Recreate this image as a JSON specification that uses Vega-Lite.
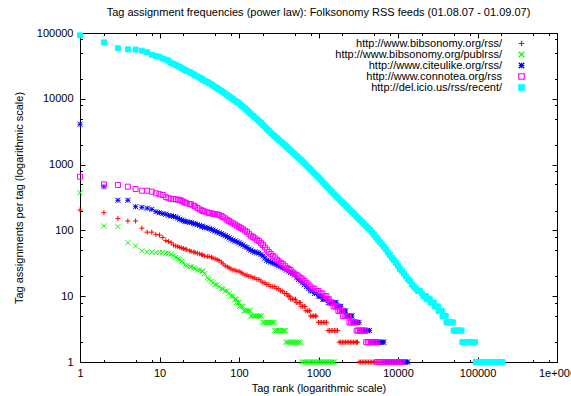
{
  "$schema": "https://vega.github.io/schema/vega-lite/v6.json",
  "width": 477,
  "height": 329,
  "autosize": "none",
  "padding": {"left": 80, "top": 33, "right": 14, "bottom": 34},
  "background": "white",
  "title": {"text": "Tag assignment frequencies (power law): Folksonomy RSS feeds (01.08.07 - 01.09.07)", "font": "Liberation Sans", "fontSize": 11, "fontWeight": "normal", "color": "black", "anchor": "middle", "offset": 9},
  "config": {
    "font": "Liberation Sans",
    "view": {"stroke": "black", "strokeWidth": 1},
    "axis": {"labelFont": "Liberation Sans", "labelFontSize": 11, "labelColor": "black", "titleFont": "Liberation Sans", "titleFontSize": 11, "titleFontWeight": "normal", "titleColor": "black", "tickColor": "black", "tickWidth": 1, "grid": false, "domain": false}
  },
  "data": {"values": [
    {"f":"rss","r":1,"n":204},{"f":"rss","r":2,"n":186},{"f":"rss","r":3,"n":151},{"f":"rss","r":4,"n":139},{"f":"rss","r":5,"n":139},{"f":"rss","r":6,"n":108},{"f":"rss","r":7,"n":94},{"f":"rss","r":8,"n":94},{"f":"rss","r":9,"n":87},{"f":"rss","r":10,"n":85},{"f":"rss","r":11,"n":78},{"f":"rss","r":12,"n":70},{"f":"rss","r":13,"n":68},{"f":"rss","r":14,"n":65},{"f":"rss","r":15,"n":60},
    {"f":"rss","r":16,"n":58},{"f":"rss","r":17,"n":57},{"f":"rss","r":18,"n":55},{"f":"rss","r":19,"n":54},{"f":"rss","r":20,"n":53},{"f":"rss","r":21,"n":52},{"f":"rss","r":22,"n":51},{"f":"rss","r":24,"n":49},{"f":"rss","r":25,"n":48},{"f":"rss","r":27,"n":47},{"f":"rss","r":28,"n":46},{"f":"rss","r":30,"n":45},{"f":"rss","r":32,"n":44},{"f":"rss","r":34,"n":43},{"f":"rss","r":35,"n":42},{"f":"rss","r":37,"n":41},{"f":"rss","r":40,"n":40},{"f":"rss","r":42,"n":40},{"f":"rss","r":45,"n":39},{"f":"rss","r":47,"n":38},{"f":"rss","r":50,"n":37},{"f":"rss","r":53,"n":36},{"f":"rss","r":56,"n":35},{"f":"rss","r":60,"n":33},{"f":"rss","r":63,"n":31},{"f":"rss","r":67,"n":29},{"f":"rss","r":71,"n":28},{"f":"rss","r":75,"n":27},{"f":"rss","r":79,"n":26},{"f":"rss","r":84,"n":25},{"f":"rss","r":89,"n":25},{"f":"rss","r":94,"n":24},{"f":"rss","r":100,"n":24},{"f":"rss","r":106,"n":23},{"f":"rss","r":112,"n":22},{"f":"rss","r":119,"n":21},{"f":"rss","r":126,"n":21},{"f":"rss","r":133,"n":20},{"f":"rss","r":141,"n":20},{"f":"rss","r":150,"n":19},{"f":"rss","r":158,"n":19},{"f":"rss","r":168,"n":18},{"f":"rss","r":178,"n":18},{"f":"rss","r":189,"n":17},{"f":"rss","r":200,"n":16},{"f":"rss","r":212,"n":16},{"f":"rss","r":224,"n":15},{"f":"rss","r":237,"n":15},{"f":"rss","r":251,"n":14},{"f":"rss","r":266,"n":14},{"f":"rss","r":282,"n":14},{"f":"rss","r":299,"n":13},{"f":"rss","r":316,"n":13},{"f":"rss","r":335,"n":12},{"f":"rss","r":355,"n":12},{"f":"rss","r":376,"n":11},{"f":"rss","r":398,"n":11},{"f":"rss","r":412,"n":10},{"f":"rss","r":427,"n":10},{"f":"rss","r":437,"n":10},
    {"f":"rss","r":447,"n":9},{"f":"rss","r":468,"n":9},{"f":"rss","r":490,"n":9},{"f":"rss","r":513,"n":9},{"f":"rss","r":525,"n":8},{"f":"rss","r":550,"n":8},{"f":"rss","r":575,"n":8},{"f":"rss","r":589,"n":8},{"f":"rss","r":603,"n":7},{"f":"rss","r":631,"n":7},{"f":"rss","r":661,"n":7},{"f":"rss","r":676,"n":7},{"f":"rss","r":692,"n":6},{"f":"rss","r":724,"n":6},{"f":"rss","r":759,"n":6},{"f":"rss","r":776,"n":6},{"f":"rss","r":794,"n":5},{"f":"rss","r":832,"n":5},{"f":"rss","r":871,"n":5},{"f":"rss","r":912,"n":5},{"f":"rss","r":933,"n":5},{"f":"rss","r":1000,"n":4},{"f":"rss","r":1047,"n":4},{"f":"rss","r":1096,"n":4},{"f":"rss","r":1148,"n":4},{"f":"rss","r":1202,"n":4},{"f":"rss","r":1259,"n":4},{"f":"rss","r":1318,"n":3},{"f":"rss","r":1380,"n":3},{"f":"rss","r":1445,"n":3},{"f":"rss","r":1514,"n":3},{"f":"rss","r":1585,"n":3},{"f":"rss","r":1660,"n":3},{"f":"rss","r":1738,"n":3},{"f":"rss","r":1820,"n":2},{"f":"rss","r":1905,"n":2},{"f":"rss","r":1995,"n":2},{"f":"rss","r":2089,"n":2},{"f":"rss","r":2188,"n":2},{"f":"rss","r":2291,"n":2},{"f":"rss","r":2399,"n":2},{"f":"rss","r":2512,"n":2},{"f":"rss","r":2630,"n":2},{"f":"rss","r":2754,"n":2},{"f":"rss","r":2884,"n":2},{"f":"rss","r":3020,"n":2},{"f":"rss","r":3090,"n":2},{"f":"rss","r":3236,"n":1},{"f":"rss","r":3388,"n":1},{"f":"rss","r":3548,"n":1},{"f":"rss","r":3715,"n":1},{"f":"rss","r":3890,"n":1},{"f":"rss","r":4074,"n":1},{"f":"rss","r":4266,"n":1},{"f":"rss","r":4467,"n":1},{"f":"rss","r":4677,"n":1},{"f":"rss","r":4898,"n":1},{"f":"rss","r":5129,"n":1},{"f":"rss","r":5623,"n":1},{"f":"rss","r":6166,"n":1},{"f":"rss","r":6761,"n":1},
    {"f":"pub","r":1,"n":374},{"f":"pub","r":2,"n":117},{"f":"pub","r":3,"n":114},{"f":"pub","r":4,"n":65},{"f":"pub","r":5,"n":58},{"f":"pub","r":6,"n":49},{"f":"pub","r":7,"n":47},{"f":"pub","r":8,"n":47},{"f":"pub","r":9,"n":46},{"f":"pub","r":10,"n":46},{"f":"pub","r":11,"n":46},{"f":"pub","r":12,"n":45},{"f":"pub","r":13,"n":45},{"f":"pub","r":14,"n":44},{"f":"pub","r":15,"n":41},
    {"f":"pub","r":16,"n":39},{"f":"pub","r":17,"n":37},{"f":"pub","r":18,"n":36},{"f":"pub","r":19,"n":34},{"f":"pub","r":20,"n":32},{"f":"pub","r":21,"n":30},{"f":"pub","r":22,"n":29},{"f":"pub","r":24,"n":28},{"f":"pub","r":25,"n":28},{"f":"pub","r":27,"n":27},{"f":"pub","r":28,"n":26},{"f":"pub","r":30,"n":25},{"f":"pub","r":32,"n":25},{"f":"pub","r":34,"n":24},{"f":"pub","r":35,"n":24},{"f":"pub","r":37,"n":22},{"f":"pub","r":40,"n":19},{"f":"pub","r":42,"n":18},{"f":"pub","r":45,"n":17},{"f":"pub","r":47,"n":16},{"f":"pub","r":50,"n":15},{"f":"pub","r":53,"n":15},{"f":"pub","r":56,"n":14},{"f":"pub","r":60,"n":13},{"f":"pub","r":63,"n":13},{"f":"pub","r":67,"n":12},{"f":"pub","r":71,"n":12},{"f":"pub","r":75,"n":11},{"f":"pub","r":79,"n":10},{"f":"pub","r":84,"n":10},{"f":"pub","r":89,"n":9},{"f":"pub","r":92,"n":9},
    {"f":"pub","r":93,"n":8},{"f":"pub","r":98,"n":8},{"f":"pub","r":100,"n":8},{"f":"pub","r":102,"n":7},{"f":"pub","r":107,"n":7},{"f":"pub","r":112,"n":7},{"f":"pub","r":115,"n":6},{"f":"pub","r":120,"n":6},{"f":"pub","r":126,"n":6},{"f":"pub","r":132,"n":6},{"f":"pub","r":138,"n":6},{"f":"pub","r":141,"n":5},{"f":"pub","r":148,"n":5},{"f":"pub","r":155,"n":5},{"f":"pub","r":162,"n":5},{"f":"pub","r":170,"n":5},{"f":"pub","r":178,"n":5},{"f":"pub","r":186,"n":5},{"f":"pub","r":191,"n":5},{"f":"pub","r":200,"n":4},{"f":"pub","r":209,"n":4},{"f":"pub","r":219,"n":4},{"f":"pub","r":229,"n":4},{"f":"pub","r":240,"n":4},{"f":"pub","r":251,"n":4},{"f":"pub","r":263,"n":4},{"f":"pub","r":275,"n":4},{"f":"pub","r":282,"n":3},{"f":"pub","r":295,"n":3},{"f":"pub","r":309,"n":3},{"f":"pub","r":324,"n":3},{"f":"pub","r":339,"n":3},{"f":"pub","r":355,"n":3},{"f":"pub","r":372,"n":3},{"f":"pub","r":380,"n":3},{"f":"pub","r":389,"n":2},{"f":"pub","r":407,"n":2},{"f":"pub","r":427,"n":2},{"f":"pub","r":447,"n":2},{"f":"pub","r":468,"n":2},{"f":"pub","r":490,"n":2},{"f":"pub","r":513,"n":2},{"f":"pub","r":537,"n":2},{"f":"pub","r":562,"n":2},{"f":"pub","r":589,"n":2},{"f":"pub","r":617,"n":1},{"f":"pub","r":646,"n":1},{"f":"pub","r":676,"n":1},{"f":"pub","r":708,"n":1},{"f":"pub","r":741,"n":1},{"f":"pub","r":776,"n":1},{"f":"pub","r":813,"n":1},{"f":"pub","r":851,"n":1},{"f":"pub","r":891,"n":1},{"f":"pub","r":933,"n":1},{"f":"pub","r":977,"n":1},{"f":"pub","r":1023,"n":1},{"f":"pub","r":1072,"n":1},{"f":"pub","r":1122,"n":1},{"f":"pub","r":1175,"n":1},{"f":"pub","r":1230,"n":1},{"f":"pub","r":1288,"n":1},{"f":"pub","r":1349,"n":1},{"f":"pub","r":1413,"n":1},{"f":"pub","r":1479,"n":1},{"f":"pub","r":1549,"n":1},{"f":"pub","r":1585,"n":1},
    {"f":"cul","r":1,"n":4100},{"f":"cul","r":2,"n":462},{"f":"cul","r":3,"n":287},{"f":"cul","r":4,"n":287},{"f":"cul","r":5,"n":229},{"f":"cul","r":6,"n":224},{"f":"cul","r":7,"n":217},{"f":"cul","r":8,"n":209},{"f":"cul","r":9,"n":192},{"f":"cul","r":10,"n":186},{"f":"cul","r":11,"n":180},{"f":"cul","r":12,"n":176},{"f":"cul","r":13,"n":170},{"f":"cul","r":14,"n":166},{"f":"cul","r":15,"n":163},
    {"f":"cul","r":16,"n":160},{"f":"cul","r":17,"n":154},{"f":"cul","r":18,"n":148},{"f":"cul","r":19,"n":144},{"f":"cul","r":20,"n":140},{"f":"cul","r":21,"n":137},{"f":"cul","r":22,"n":135},{"f":"cul","r":24,"n":133},{"f":"cul","r":25,"n":131},{"f":"cul","r":27,"n":128},{"f":"cul","r":28,"n":125},{"f":"cul","r":30,"n":122},{"f":"cul","r":32,"n":119},{"f":"cul","r":34,"n":116},{"f":"cul","r":35,"n":114},{"f":"cul","r":37,"n":111},{"f":"cul","r":40,"n":109},{"f":"cul","r":42,"n":106},{"f":"cul","r":45,"n":104},{"f":"cul","r":47,"n":101},{"f":"cul","r":50,"n":98},{"f":"cul","r":53,"n":95},{"f":"cul","r":56,"n":92},{"f":"cul","r":60,"n":89},{"f":"cul","r":63,"n":86},{"f":"cul","r":67,"n":83},{"f":"cul","r":71,"n":80},{"f":"cul","r":75,"n":77},{"f":"cul","r":79,"n":74},{"f":"cul","r":84,"n":71},{"f":"cul","r":89,"n":69},{"f":"cul","r":94,"n":67},{"f":"cul","r":100,"n":65},{"f":"cul","r":106,"n":62},{"f":"cul","r":112,"n":60},{"f":"cul","r":119,"n":57},{"f":"cul","r":126,"n":55},{"f":"cul","r":133,"n":52},{"f":"cul","r":141,"n":50},{"f":"cul","r":150,"n":48},{"f":"cul","r":158,"n":47},{"f":"cul","r":168,"n":46},{"f":"cul","r":178,"n":45},{"f":"cul","r":189,"n":43},{"f":"cul","r":200,"n":41},{"f":"cul","r":212,"n":38},{"f":"cul","r":224,"n":35},{"f":"cul","r":237,"n":34},{"f":"cul","r":251,"n":33},{"f":"cul","r":266,"n":32},{"f":"cul","r":282,"n":31},{"f":"cul","r":299,"n":30},{"f":"cul","r":316,"n":29},{"f":"cul","r":335,"n":28},{"f":"cul","r":355,"n":27},{"f":"cul","r":376,"n":26},{"f":"cul","r":398,"n":25},{"f":"cul","r":422,"n":24},{"f":"cul","r":447,"n":23},{"f":"cul","r":473,"n":22},{"f":"cul","r":501,"n":21},{"f":"cul","r":531,"n":19},{"f":"cul","r":562,"n":18},{"f":"cul","r":596,"n":17},{"f":"cul","r":631,"n":16},{"f":"cul","r":668,"n":15},{"f":"cul","r":708,"n":14},{"f":"cul","r":750,"n":13},{"f":"cul","r":794,"n":12},{"f":"cul","r":841,"n":12},{"f":"cul","r":891,"n":11},{"f":"cul","r":944,"n":11},{"f":"cul","r":1000,"n":10},{"f":"cul","r":1047,"n":10},{"f":"cul","r":1096,"n":10},{"f":"cul","r":1135,"n":9},{"f":"cul","r":1175,"n":9},{"f":"cul","r":1230,"n":9},{"f":"cul","r":1288,"n":9},{"f":"cul","r":1330,"n":8},{"f":"cul","r":1380,"n":8},{"f":"cul","r":1430,"n":8},{"f":"cul","r":1479,"n":8},{"f":"cul","r":1549,"n":8},{"f":"cul","r":1622,"n":8},{"f":"cul","r":1660,"n":8},
    {"f":"cul","r":1698,"n":7},{"f":"cul","r":1778,"n":7},{"f":"cul","r":1862,"n":7},{"f":"cul","r":1905,"n":7},{"f":"cul","r":1950,"n":6},{"f":"cul","r":2042,"n":6},{"f":"cul","r":2138,"n":6},{"f":"cul","r":2188,"n":6},{"f":"cul","r":2239,"n":5},{"f":"cul","r":2344,"n":5},{"f":"cul","r":2455,"n":5},{"f":"cul","r":2570,"n":5},{"f":"cul","r":2630,"n":5},{"f":"cul","r":2692,"n":4},{"f":"cul","r":2818,"n":4},{"f":"cul","r":2951,"n":4},{"f":"cul","r":3090,"n":4},{"f":"cul","r":3236,"n":4},{"f":"cul","r":3311,"n":3},{"f":"cul","r":3467,"n":3},{"f":"cul","r":3631,"n":3},{"f":"cul","r":3802,"n":3},{"f":"cul","r":3981,"n":3},{"f":"cul","r":4169,"n":3},{"f":"cul","r":4365,"n":3},{"f":"cul","r":4467,"n":2},{"f":"cul","r":4677,"n":2},{"f":"cul","r":4898,"n":2},{"f":"cul","r":5129,"n":2},{"f":"cul","r":5370,"n":2},{"f":"cul","r":5623,"n":2},{"f":"cul","r":5888,"n":2},{"f":"cul","r":6166,"n":2},{"f":"cul","r":6457,"n":2},{"f":"cul","r":6607,"n":2},{"f":"cul","r":6761,"n":1},{"f":"cul","r":7079,"n":1},{"f":"cul","r":7413,"n":1},{"f":"cul","r":7762,"n":1},{"f":"cul","r":8128,"n":1},{"f":"cul","r":8511,"n":1},{"f":"cul","r":8913,"n":1},{"f":"cul","r":9333,"n":1},{"f":"cul","r":9772,"n":1},{"f":"cul","r":10230,"n":1},{"f":"cul","r":10720,"n":1},{"f":"cul","r":11220,"n":1},{"f":"cul","r":11750,"n":1},{"f":"cul","r":12300,"n":1},{"f":"cul","r":12880,"n":1},{"f":"cul","r":13180,"n":1},
    {"f":"con","r":1,"n":655},{"f":"con","r":2,"n":502},{"f":"con","r":3,"n":490},{"f":"con","r":4,"n":462},{"f":"con","r":5,"n":426},{"f":"con","r":6,"n":401},{"f":"con","r":7,"n":401},{"f":"con","r":8,"n":388},{"f":"con","r":9,"n":366},{"f":"con","r":10,"n":355},{"f":"con","r":11,"n":345},{"f":"con","r":12,"n":320},{"f":"con","r":13,"n":307},{"f":"con","r":14,"n":303},{"f":"con","r":15,"n":299},
    {"f":"con","r":16,"n":296},{"f":"con","r":17,"n":293},{"f":"con","r":18,"n":290},{"f":"con","r":19,"n":281},{"f":"con","r":20,"n":273},{"f":"con","r":21,"n":265},{"f":"con","r":22,"n":258},{"f":"con","r":24,"n":252},{"f":"con","r":25,"n":248},{"f":"con","r":27,"n":238},{"f":"con","r":28,"n":231},{"f":"con","r":30,"n":219},{"f":"con","r":32,"n":208},{"f":"con","r":34,"n":202},{"f":"con","r":35,"n":197},{"f":"con","r":37,"n":193},{"f":"con","r":40,"n":188},{"f":"con","r":42,"n":184},{"f":"con","r":45,"n":181},{"f":"con","r":47,"n":179},{"f":"con","r":50,"n":177},{"f":"con","r":53,"n":175},{"f":"con","r":56,"n":172},{"f":"con","r":60,"n":165},{"f":"con","r":63,"n":159},{"f":"con","r":67,"n":152},{"f":"con","r":71,"n":145},{"f":"con","r":75,"n":139},{"f":"con","r":79,"n":133},{"f":"con","r":84,"n":128},{"f":"con","r":89,"n":123},{"f":"con","r":94,"n":118},{"f":"con","r":100,"n":113},{"f":"con","r":106,"n":108},{"f":"con","r":112,"n":104},{"f":"con","r":119,"n":99},{"f":"con","r":126,"n":95},{"f":"con","r":133,"n":89},{"f":"con","r":141,"n":83},{"f":"con","r":150,"n":79},{"f":"con","r":158,"n":76},{"f":"con","r":168,"n":72},{"f":"con","r":178,"n":69},{"f":"con","r":189,"n":64},{"f":"con","r":200,"n":60},{"f":"con","r":212,"n":55},{"f":"con","r":224,"n":51},{"f":"con","r":237,"n":47},{"f":"con","r":251,"n":44},{"f":"con","r":266,"n":41},{"f":"con","r":282,"n":39},{"f":"con","r":299,"n":36},{"f":"con","r":316,"n":34},{"f":"con","r":335,"n":32},{"f":"con","r":355,"n":31},{"f":"con","r":376,"n":29},{"f":"con","r":398,"n":27},{"f":"con","r":422,"n":26},{"f":"con","r":447,"n":25},{"f":"con","r":473,"n":23},{"f":"con","r":501,"n":22},{"f":"con","r":531,"n":21},{"f":"con","r":562,"n":20},{"f":"con","r":596,"n":19},{"f":"con","r":631,"n":18},{"f":"con","r":668,"n":17},{"f":"con","r":708,"n":16},{"f":"con","r":750,"n":15},{"f":"con","r":794,"n":14},{"f":"con","r":841,"n":13},{"f":"con","r":891,"n":13},{"f":"con","r":944,"n":12},{"f":"con","r":1000,"n":12},{"f":"con","r":1059,"n":11},{"f":"con","r":1122,"n":11},{"f":"con","r":1189,"n":10},{"f":"con","r":1259,"n":10},{"f":"con","r":1300,"n":9},{"f":"con","r":1349,"n":9},{"f":"con","r":1400,"n":8},{"f":"con","r":1445,"n":8},{"f":"con","r":1500,"n":8},
    {"f":"con","r":1549,"n":7},{"f":"con","r":1622,"n":7},{"f":"con","r":1698,"n":7},{"f":"con","r":1738,"n":7},{"f":"con","r":1778,"n":6},{"f":"con","r":1862,"n":6},{"f":"con","r":1950,"n":6},{"f":"con","r":1995,"n":6},{"f":"con","r":2042,"n":5},{"f":"con","r":2138,"n":5},{"f":"con","r":2239,"n":5},{"f":"con","r":2344,"n":5},{"f":"con","r":2399,"n":5},{"f":"con","r":2455,"n":4},{"f":"con","r":2570,"n":4},{"f":"con","r":2692,"n":4},{"f":"con","r":2818,"n":4},{"f":"con","r":2951,"n":4},{"f":"con","r":3020,"n":3},{"f":"con","r":3162,"n":3},{"f":"con","r":3311,"n":3},{"f":"con","r":3467,"n":3},{"f":"con","r":3631,"n":3},{"f":"con","r":3802,"n":3},{"f":"con","r":3890,"n":3},{"f":"con","r":3981,"n":2},{"f":"con","r":4169,"n":2},{"f":"con","r":4365,"n":2},{"f":"con","r":4571,"n":2},{"f":"con","r":4786,"n":2},{"f":"con","r":5012,"n":2},{"f":"con","r":5248,"n":2},{"f":"con","r":5370,"n":2},{"f":"con","r":5495,"n":1},{"f":"con","r":5754,"n":1},{"f":"con","r":6026,"n":1},{"f":"con","r":6310,"n":1},{"f":"con","r":6607,"n":1},{"f":"con","r":6918,"n":1},{"f":"con","r":7244,"n":1},{"f":"con","r":7586,"n":1},{"f":"con","r":7943,"n":1},{"f":"con","r":8318,"n":1},{"f":"con","r":8710,"n":1},{"f":"con","r":9120,"n":1},{"f":"con","r":9550,"n":1},{"f":"con","r":10000,"n":1},{"f":"con","r":10470,"n":1},{"f":"con","r":10960,"n":1},{"f":"con","r":11400,"n":1},
    {"f":"del","r":1,"n":92000},{"f":"del","r":2,"n":72000},{"f":"del","r":3,"n":58600},{"f":"del","r":4,"n":56500},{"f":"del","r":5,"n":56000},{"f":"del","r":6,"n":53800},{"f":"del","r":7,"n":50900},{"f":"del","r":8,"n":46800},{"f":"del","r":9,"n":44600},{"f":"del","r":10,"n":43600},
    {"f":"del","r":11,"n":40900},{"f":"del","r":12,"n":39400},{"f":"del","r":13,"n":38000},{"f":"del","r":14,"n":35200},{"f":"del","r":15,"n":33900},{"f":"del","r":16,"n":32700},{"f":"del","r":17,"n":31500},{"f":"del","r":18,"n":30300},{"f":"del","r":19,"n":29200},{"f":"del","r":20,"n":28200},{"f":"del","r":21,"n":27300},{"f":"del","r":22,"n":26400},{"f":"del","r":24,"n":25400},{"f":"del","r":25,"n":24500},{"f":"del","r":27,"n":23600},{"f":"del","r":28,"n":22700},{"f":"del","r":30,"n":21800},{"f":"del","r":32,"n":21000},{"f":"del","r":34,"n":20200},{"f":"del","r":35,"n":19500},{"f":"del","r":37,"n":18700},{"f":"del","r":40,"n":18000},{"f":"del","r":42,"n":17300},{"f":"del","r":45,"n":16600},{"f":"del","r":47,"n":15900},{"f":"del","r":50,"n":15200},{"f":"del","r":53,"n":14500},{"f":"del","r":56,"n":13900},{"f":"del","r":60,"n":13200},{"f":"del","r":63,"n":12600},{"f":"del","r":67,"n":12000},{"f":"del","r":71,"n":11400},{"f":"del","r":75,"n":10900},{"f":"del","r":79,"n":10400},{"f":"del","r":84,"n":9900},{"f":"del","r":89,"n":9420},{"f":"del","r":94,"n":8970},{"f":"del","r":100,"n":8550},{"f":"del","r":106,"n":8060},{"f":"del","r":112,"n":7590},{"f":"del","r":119,"n":7130},{"f":"del","r":126,"n":6700},{"f":"del","r":133,"n":6290},{"f":"del","r":141,"n":5900},{"f":"del","r":150,"n":5540},{"f":"del","r":158,"n":5210},{"f":"del","r":168,"n":4890},{"f":"del","r":178,"n":4590},{"f":"del","r":189,"n":4300},{"f":"del","r":200,"n":4020},{"f":"del","r":212,"n":3750},{"f":"del","r":224,"n":3490},{"f":"del","r":237,"n":3260},{"f":"del","r":251,"n":3050},{"f":"del","r":266,"n":2860},{"f":"del","r":282,"n":2690},{"f":"del","r":299,"n":2530},{"f":"del","r":316,"n":2380},{"f":"del","r":335,"n":2240},{"f":"del","r":355,"n":2100},{"f":"del","r":376,"n":1970},{"f":"del","r":398,"n":1850},{"f":"del","r":422,"n":1740},{"f":"del","r":447,"n":1630},{"f":"del","r":473,"n":1530},{"f":"del","r":501,"n":1440},{"f":"del","r":531,"n":1350},{"f":"del","r":562,"n":1270},{"f":"del","r":596,"n":1190},{"f":"del","r":631,"n":1110},{"f":"del","r":668,"n":1040},{"f":"del","r":708,"n":966},{"f":"del","r":750,"n":901},{"f":"del","r":794,"n":841},{"f":"del","r":841,"n":784},{"f":"del","r":891,"n":731},{"f":"del","r":944,"n":682},{"f":"del","r":1000,"n":637},{"f":"del","r":1059,"n":592},{"f":"del","r":1122,"n":550},{"f":"del","r":1189,"n":510},{"f":"del","r":1259,"n":472},{"f":"del","r":1334,"n":438},{"f":"del","r":1413,"n":406},{"f":"del","r":1496,"n":378},{"f":"del","r":1585,"n":352},{"f":"del","r":1679,"n":328},{"f":"del","r":1778,"n":306},{"f":"del","r":1884,"n":286},{"f":"del","r":1995,"n":267},{"f":"del","r":2113,"n":249},{"f":"del","r":2239,"n":232},{"f":"del","r":2371,"n":217},{"f":"del","r":2512,"n":202},{"f":"del","r":2661,"n":189},{"f":"del","r":2818,"n":176},{"f":"del","r":2985,"n":164},{"f":"del","r":3162,"n":153},{"f":"del","r":3350,"n":143},{"f":"del","r":3548,"n":133},{"f":"del","r":3758,"n":124},{"f":"del","r":3981,"n":116},{"f":"del","r":4217,"n":108},{"f":"del","r":4467,"n":101},{"f":"del","r":4732,"n":93},{"f":"del","r":5012,"n":85},{"f":"del","r":5309,"n":78},{"f":"del","r":5623,"n":72},{"f":"del","r":5957,"n":66},{"f":"del","r":6310,"n":61},{"f":"del","r":6683,"n":56},{"f":"del","r":7079,"n":51},{"f":"del","r":7499,"n":46},{"f":"del","r":7943,"n":42},{"f":"del","r":8414,"n":38},{"f":"del","r":8913,"n":35},{"f":"del","r":9441,"n":32},{"f":"del","r":10000,"n":29},{"f":"del","r":10590,"n":26},{"f":"del","r":11220,"n":24},{"f":"del","r":11890,"n":22},{"f":"del","r":12590,"n":20},{"f":"del","r":13340,"n":18},{"f":"del","r":14130,"n":17},{"f":"del","r":14970,"n":15},{"f":"del","r":15850,"n":14},{"f":"del","r":16790,"n":13},{"f":"del","r":17780,"n":12},{"f":"del","r":18840,"n":12},{"f":"del","r":19950,"n":11},
    {"f":"del","r":20890,"n":10},{"f":"del","r":21880,"n":10},{"f":"del","r":22390,"n":10},{"f":"del","r":22910,"n":9},{"f":"del","r":23990,"n":9},{"f":"del","r":25120,"n":9},{"f":"del","r":25700,"n":8},{"f":"del","r":26920,"n":8},{"f":"del","r":28180,"n":8},{"f":"del","r":28840,"n":7},{"f":"del","r":30200,"n":7},{"f":"del","r":31620,"n":7},{"f":"del","r":32360,"n":6},{"f":"del","r":33880,"n":6},{"f":"del","r":35480,"n":6},{"f":"del","r":36310,"n":5},{"f":"del","r":38020,"n":5},{"f":"del","r":39810,"n":5},{"f":"del","r":40740,"n":4},{"f":"del","r":42660,"n":4},{"f":"del","r":44670,"n":4},{"f":"del","r":46770,"n":4},{"f":"del","r":48980,"n":4},{"f":"del","r":50120,"n":3},{"f":"del","r":52480,"n":3},{"f":"del","r":54950,"n":3},{"f":"del","r":57540,"n":3},{"f":"del","r":60260,"n":3},{"f":"del","r":63100,"n":3},{"f":"del","r":64570,"n":2},{"f":"del","r":67610,"n":2},{"f":"del","r":70790,"n":2},{"f":"del","r":74130,"n":2},{"f":"del","r":77620,"n":2},{"f":"del","r":81280,"n":2},{"f":"del","r":85110,"n":2},{"f":"del","r":89130,"n":2},{"f":"del","r":93330,"n":2},{"f":"del","r":95500,"n":1},{"f":"del","r":100000,"n":1},{"f":"del","r":104700,"n":1},{"f":"del","r":109600,"n":1},{"f":"del","r":114800,"n":1},{"f":"del","r":120200,"n":1},{"f":"del","r":125900,"n":1},{"f":"del","r":131800,"n":1},{"f":"del","r":138000,"n":1},{"f":"del","r":144500,"n":1},{"f":"del","r":151400,"n":1},{"f":"del","r":158500,"n":1},{"f":"del","r":166000,"n":1},{"f":"del","r":173800,"n":1},{"f":"del","r":182000,"n":1},{"f":"del","r":190500,"n":1},{"f":"del","r":199500,"n":1},{"f":"del","r":206000,"n":1}
  ]},
  "layer": [
    {
      "mark": {"type": "point", "size": 25, "strokeWidth": 1, "opacity": 1},
      "encoding": {
        "x": {"field": "r", "type": "quantitative", "scale": {"type": "log", "domain": [1, 1000000], "nice": false},
              "axis": {"orient": "bottom", "values": [1, 10, 100, 1000, 10000, 100000, 1000000], "ticks": false, "labelFlush": false, "labelOverlap": false, "labelPadding": 5,
                       "labelExpr": "datum.value >= 1000000 ? '1e+006' : format(datum.value, 'd')", "title": "Tag rank (logarithmic scale)", "titlePadding": 4}},
        "y": {"field": "n", "type": "quantitative", "scale": {"type": "log", "domain": [1, 100000], "nice": false},
              "axis": {"orient": "left", "values": [1, 10, 100, 1000, 10000, 100000], "ticks": false, "labelFlush": false, "labelOverlap": false, "labelPadding": 7,
                       "labelExpr": "format(datum.value, 'd')", "title": "Tag assignments per tag (logarithmic scale)", "titlePadding": 12}},
        "shape": {"field": "f", "type": "nominal",
                  "scale": {"domain": ["rss", "pub", "cul", "con", "del"], "range": ["M-1,0L1,0M0,-1L0,1", "M-1,-1L1,1M-1,1L1,-1", "M-1,0L1,0M0,-1L0,1M-1,-1L1,1M-1,1L1,-1", "M-1,-1L1,-1L1,1L-1,1Z", "M-1,-1L1,-1L1,1L-1,1Z"]}},
        "stroke": {"field": "f", "type": "nominal",
                   "scale": {"domain": ["rss", "pub", "cul", "con", "del"], "range": ["#ff0000", "#00ff00", "#0000ff", "#ff00ff", "#00ffff"]},
                   "legend": {"title": null, "orient": "none", "legendX": 436, "legendY": 5, "padding": 0, "rowPadding": -1,
                              "labelAlign": "right", "labelOffset": -25, "labelLimit": 400, "labelFont": "Liberation Sans", "labelFontSize": 11, "labelColor": "black",
                              "symbolSize": 30, "symbolStrokeWidth": 1.2,
                              "encode": {"symbols": {"update": {"stroke": {"scale": "stroke", "field": "value"}, "opacity": {"value": 1}}}},
                              "labelExpr": "datum.value == 'rss' ? 'http://www.bibsonomy.org/rss/' : datum.value == 'pub' ? 'http://www.bibsonomy.org/publrss/' : datum.value == 'cul' ? 'http://www.citeulike.org/rss/' : datum.value == 'con' ? 'http://www.connotea.org/rss' : 'http://del.icio.us/rss/recent/'"}},
        "fill": {"field": "f", "type": "nominal",
                 "scale": {"domain": ["rss", "pub", "cul", "con", "del"], "range": ["transparent", "transparent", "transparent", "transparent", "#00ffff"]}}
      }
    },
    {
      "mark": {"type": "point", "opacity": 0},
      "transform": [{"filter": "datum.r == 1"}],
      "encoding": {
        "x": {"field": "r", "type": "quantitative", "axis": {"orient": "bottom", "values": [1, 10, 100, 1000, 10000, 100000, 1000000], "labels": false, "tickSize": -5, "title": null}},
        "y": {"field": "n", "type": "quantitative", "axis": {"orient": "left", "values": [1, 10, 100, 1000, 10000, 100000], "labels": false, "tickSize": -5, "title": null}}
      }
    },
    {
      "mark": {"type": "point", "opacity": 0},
      "transform": [{"filter": "datum.r == 1"}],
      "encoding": {
        "x": {"field": "r", "type": "quantitative", "axis": {"orient": "bottom", "values": [2, 5, 8, 20, 50, 80, 200, 500, 800, 2000, 5000, 8000, 20000, 50000, 80000, 200000, 500000, 800000], "labels": false, "tickSize": -2.5, "title": null}},
        "y": {"field": "n", "type": "quantitative", "axis": {"orient": "left", "values": [2, 5, 8, 20, 50, 80, 200, 500, 800, 2000, 5000, 8000, 20000, 50000, 80000], "labels": false, "tickSize": -2.5, "title": null}}
      }
    },
    {
      "mark": {"type": "point", "opacity": 0},
      "transform": [{"filter": "datum.r == 1"}],
      "encoding": {
        "x": {"field": "r", "type": "quantitative", "axis": {"orient": "top", "values": [1, 10, 100, 1000, 10000, 100000, 1000000], "labels": false, "tickSize": -5, "title": null}},
        "y": {"field": "n", "type": "quantitative", "axis": {"orient": "right", "values": [1, 10, 100, 1000, 10000, 100000], "labels": false, "tickSize": -5, "title": null}}
      }
    },
    {
      "mark": {"type": "point", "opacity": 0},
      "transform": [{"filter": "datum.r == 1"}],
      "encoding": {
        "x": {"field": "r", "type": "quantitative", "axis": {"orient": "top", "values": [2, 5, 8, 20, 50, 80, 200, 500, 800, 2000, 5000, 8000, 20000, 50000, 80000, 200000, 500000, 800000], "labels": false, "tickSize": -2.5, "title": null}},
        "y": {"field": "n", "type": "quantitative", "axis": {"orient": "right", "values": [2, 5, 8, 20, 50, 80, 200, 500, 800, 2000, 5000, 8000, 20000, 50000, 80000], "labels": false, "tickSize": -2.5, "title": null}}
      }
    }
  ],
  "resolve": {"axis": {"x": "independent", "y": "independent"}}
}
